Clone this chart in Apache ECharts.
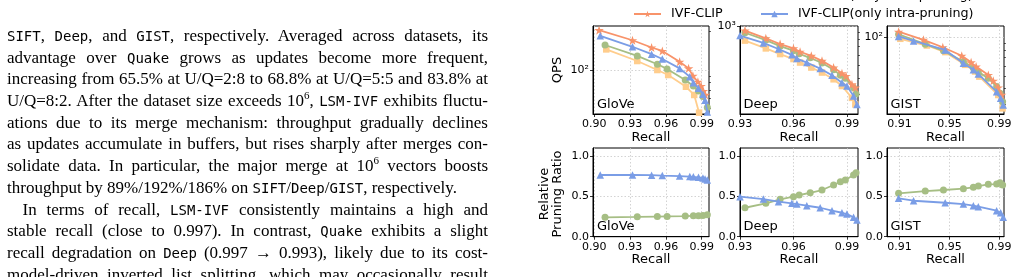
<!DOCTYPE html>
<html>
<head>
<meta charset="utf-8">
<script src="https://cdn.jsdelivr.net/npm/echarts@6/dist/echarts.min.js"></script>
<style>
body { margin: 0; width: 1017px; height: 277px; overflow: hidden; background: #fff; position: relative; }
#chart { position: absolute; left: 0; top: 0; width: 1017px; height: 277px; }
#text { position: absolute; left: 7px; top: 25px; width: 481px; font-family: "Liberation Serif", serif; font-size: 17px; line-height: 21.7px; color: #000; }
#text div { text-align: justify; text-align-last: justify; white-space: nowrap; height: 21.7px; }
#text div.last { text-align-last: left; }
#text div.ind { text-indent: 15.5px; }
.tt { font-family: "DejaVu Sans Mono", monospace; font-size: 14px; }
sup { font-size: 11px; line-height: 0; }
</style>
</head>
<body>
<div id="chart"></div>
<div id="text">
<div><span class="tt">SIFT</span>, <span class="tt">Deep</span>, and <span class="tt">GIST</span>, respectively. Averaged across datasets, its</div>
<div>advantage over <span class="tt">Quake</span> grows as updates become more frequent,</div>
<div>increasing from 65.5% at U/Q=2:8 to 68.8% at U/Q=5:5 and 83.8% at</div>
<div>U/Q=8:2. After the dataset size exceeds 10<sup>6</sup>, <span class="tt">LSM-IVF</span> exhibits fluctu-</div>
<div>ations due to its merge mechanism: throughput gradually declines</div>
<div>as updates accumulate in buffers, but rises sharply after merges con-</div>
<div>solidate data. In particular, the major merge at 10<sup>6</sup> vectors boosts</div>
<div class="last">throughput by 89%/192%/186% on <span class="tt">SIFT</span>/<span class="tt">Deep</span>/<span class="tt">GIST</span>, respectively.</div>
<div class="ind">In terms of recall, <span class="tt">LSM-IVF</span> consistently maintains a high and</div>
<div>stable recall (close to 0.997). In contrast, <span class="tt">Quake</span> exhibits a slight</div>
<div>recall degradation on <span class="tt">Deep</span> (0.997 → 0.993), likely due to its cost-</div>
<div>model-driven inverted list splitting, which may occasionally result</div>
</div>
<script>
// 数据: recall / QPS / 剪枝比例, 从图上读出来的
let seriesNames = ['IVF', 'IVF-CLIP(only inter-pruning)', 'IVF-CLIP', 'IVF-CLIP(only intra-pruning)'];
let datasetNames = ['GloVe', 'Deep', 'GIST'];

// GloVe
let gloveRecallIvf = [0.910, 0.936, 0.9528, 0.9619, 0.9768, 0.9837, 0.9878];
let gloveQpsIvf = [145, 117.6, 100, 91.4, 74, 63.8, 46.4];
let gloveRecallInter = [0.909, 0.936, 0.9528, 0.961, 0.9762, 0.983, 0.9873, 0.991, 0.9947];
let gloveQpsInter = [157, 129, 111, 102, 83.5, 75, 68.5, 62, 51];
let gloveRatioInter = [0.240, 0.246, 0.250, 0.252, 0.256, 0.259, 0.261, 0.264, 0.272];
let gloveRecallClip = [0.904, 0.932, 0.948, 0.957, 0.9715, 0.979, 0.9826, 0.9868, 0.9895, 0.9914, 0.993];
let gloveQpsClip = [205, 171, 150, 141, 116, 103, 90, 81, 75, 68.5, 64];
let gloveRecallIntra = [0.905, 0.932, 0.948, 0.957, 0.9715, 0.980, 0.983, 0.9873, 0.991, 0.9928, 0.9947];
let gloveQpsIntra = [185, 152, 133, 122, 103, 88.6, 79.6, 72, 64.6, 58, 47];
let gloveRatioIntra = [0.765, 0.765, 0.763, 0.758, 0.752, 0.746, 0.742, 0.736, 0.728, 0.716, 0.703];

// Deep
let deepRecallIvf = [0.9328, 0.9445, 0.9525, 0.960, 0.9637, 0.970, 0.976, 0.9825, 0.9872, 0.9928, 0.9947];
let deepQpsIvf = [778, 677, 612, 560, 526, 481, 440, 390, 346, 280, 249];
let deepRecallInter = [0.9328, 0.9445, 0.9525, 0.960, 0.9632, 0.9694, 0.976, 0.9825, 0.9863, 0.9891, 0.9937, 0.9951];
let deepQpsInter = [895, 785, 705, 650, 615, 572, 522, 462, 420, 398, 335, 300];
let deepRatioInter = [0.359, 0.414, 0.463, 0.496, 0.517, 0.545, 0.579, 0.641, 0.682, 0.703, 0.765, 0.793];
let deepRecallClip = [0.9328, 0.9445, 0.9525, 0.960, 0.9637, 0.970, 0.976, 0.9825, 0.9872, 0.9895, 0.9928, 0.9947];
let deepQpsClip = [931, 811, 732, 677, 638, 593, 542, 481, 435, 414, 357, 336];
let deepRecallIntra = [0.930, 0.9431, 0.9516, 0.9591, 0.9619, 0.9675, 0.975, 0.9816, 0.9872, 0.990, 0.9937, 0.9956];
let deepQpsIntra = [851, 747, 670, 604, 565, 526, 472, 420, 367, 346, 289, 249];
let deepRatioIntra = [0.496, 0.467, 0.434, 0.414, 0.405, 0.384, 0.359, 0.322, 0.297, 0.281, 0.240, 0.207];

// GIST
let gistRecallIvf = [0.9106, 0.9319, 0.9466, 0.9626, 0.9706, 0.974, 0.9892, 0.9927];
let gistQpsIvf = [97.7, 86.6, 76.9, 61.2, 54.3, 49.5, 35.6, 28];
let gistRecallInter = [0.9092, 0.9306, 0.9452, 0.9612, 0.9692, 0.9732, 0.9812, 0.9879, 0.9906, 0.9927];
let gistQpsInter = [106, 88.7, 78.7, 65, 57.7, 53.7, 48.2, 41.4, 36.8, 31.6];
let gistRatioInter = [0.538, 0.566, 0.579, 0.595, 0.612, 0.628, 0.649, 0.653, 0.669, 0.640];
let gistRecallClip = [0.9092, 0.9292, 0.9447, 0.9599, 0.9674, 0.9714, 0.9812, 0.9852, 0.9892, 0.9919];
let gistQpsClip = [111, 96, 84, 72, 64, 59.3, 51, 46, 40.7, 35.7];
let gistRecallIntra = [0.9092, 0.9212, 0.9466, 0.9612, 0.9692, 0.9732, 0.9879, 0.9911, 0.9932];
let gistQpsIntra = [102, 94, 80, 63, 56, 51.8, 37.8, 33.6, 29.8];
let gistRatioIntra = [0.476, 0.446, 0.421, 0.405, 0.384, 0.372, 0.322, 0.297, 0.240];

// 坐标轴刻度
let recallTicks = [[0.90, 0.93, 0.96, 0.99], [0.93, 0.96, 0.99], [0.91, 0.95, 0.99]];
let recallRange = [[0.8989, 0.9961], [0.93, 0.9962], [0.8999, 0.9938]];
let qpsTicks = [[100], [1000], [100]];
let qpsMinorTicks = [[50, 60, 70, 80, 90, 200], [300, 400, 500, 600, 700, 800, 900], [30, 40, 50, 60, 70, 80, 90]];
let qpsRange = [[45.3, 221], [210, 1010], [25.3, 123]];
let ratioTicks = [0, 0.5, 1.0];

let colors = ['#FFCD8C', '#A6BE84', '#F8936A', '#7A9DE6'];
let starPath = 'path://M50,0L61.23,34.55L97.55,34.55L68.17,55.9L79.39,90.45L50,69.1L20.61,90.45L31.83,55.9L2.45,34.55L38.77,34.55Z';
let symbols = ['rect', 'circle', starPath, 'triangle'];
let symbolSizes = [6.5, 7, 9.5, 7.5];

let topData = [
	[[gloveRecallIvf, gloveQpsIvf], [gloveRecallInter, gloveQpsInter], [gloveRecallClip, gloveQpsClip], [gloveRecallIntra, gloveQpsIntra]],
	[[deepRecallIvf, deepQpsIvf], [deepRecallInter, deepQpsInter], [deepRecallClip, deepQpsClip], [deepRecallIntra, deepQpsIntra]],
	[[gistRecallIvf, gistQpsIvf], [gistRecallInter, gistQpsInter], [gistRecallClip, gistQpsClip], [gistRecallIntra, gistQpsIntra]]
];
let bottomData = [
	[[gloveRecallInter, gloveRatioInter], [gloveRecallIntra, gloveRatioIntra]],
	[[deepRecallInter, deepRatioInter], [deepRecallIntra, deepRatioIntra]],
	[[gistRecallInter, gistRatioInter], [gistRecallIntra, gistRatioIntra]]
];

function pairs(xs, ys) {
	return xs.map(function(x, i) { return [x, ys[i]]; });
}

let font = 'DejaVu Sans';
let panelLeft = [593, 740, 887];
let panelWidth = [116, 118, 117];

let grids = [], xAxes = [], yAxes = [], series = [], graphics = [];

for (let i = 0; i < 3; i++) {
	grids.push({ left: panelLeft[i], top: 26, width: panelWidth[i], height: 88 });
}
for (let i = 0; i < 3; i++) {
	grids.push({ left: panelLeft[i], top: 148, width: panelWidth[i], height: 88.7 });
}
grids.forEach(function(g) {
	g.show = true;
	g.borderColor = '#000';
	g.borderWidth = 1;
	g.backgroundColor = 'transparent';
	g.outerBoundsMode = 'none';
	g.containLabel = false;
});

// x 轴
for (let k = 0; k < 6; k++) {
	let i = k % 3;
	xAxes.push({
		type: 'value',
		gridIndex: k,
		min: recallRange[i][0],
		max: recallRange[i][1],
		name: 'Recall',
		nameLocation: 'middle',
		nameGap: 16,
		nameTextStyle: { fontFamily: font, fontSize: 13, color: '#000' },
		axisLine: { show: true, lineStyle: { color: '#000', width: 1 } },
		axisTick: { show: true, length: 3, lineStyle: { color: '#000', width: 0.8 }, customValues: recallTicks[i] },
		axisLabel: {
			customValues: recallTicks[i],
			margin: 5,
			fontFamily: font,
			fontSize: 11,
			color: '#000',
			formatter: function(v) { return v.toFixed(2); }
		},
		splitLine: { show: true, lineStyle: { color: '#c8c8c8', width: 0.8, type: [1.5, 2] } }
	});
}

// y 轴 (QPS 对数)
for (let i = 0; i < 3; i++) {
	yAxes.push({
		type: 'log',
		logBase: 10,
		gridIndex: i,
		min: qpsRange[i][0],
		max: qpsRange[i][1],
		axisLine: { show: true, lineStyle: { color: '#000', width: 1 } },
		axisTick: { show: true, length: 3, lineStyle: { color: '#000', width: 0.8 }, customValues: qpsTicks[i] },
		axisLabel: {
			customValues: qpsTicks[i],
			margin: 4,
			fontFamily: font,
			fontSize: 11,
			color: '#000',
			formatter: function(v) { return v >= 999 ? '10³' : '10²'; }
		},
		splitLine: { show: true, lineStyle: { color: '#c8c8c8', width: 0.8, type: [1.5, 2] } }
	});
}
// y 轴 (剪枝比例)
for (let i = 0; i < 3; i++) {
	yAxes.push({
		type: 'value',
		gridIndex: 3 + i,
		min: 0,
		max: 1.1,
		axisLine: { show: true, lineStyle: { color: '#000', width: 1 } },
		axisTick: { show: true, length: 3, lineStyle: { color: '#000', width: 0.8 }, customValues: ratioTicks },
		axisLabel: {
			customValues: ratioTicks,
			margin: 4,
			fontFamily: font,
			fontSize: 11,
			color: '#000',
			formatter: function(v) { return v.toFixed(1); }
		},
		splitLine: { show: true, lineStyle: { color: '#c8c8c8', width: 0.8, type: [1.5, 2] } }
	});
}
// 对数轴的小刻度
for (let i = 0; i < 3; i++) {
	yAxes.push({
		type: 'log',
		logBase: 10,
		gridIndex: i,
		min: qpsRange[i][0],
		max: qpsRange[i][1],
		axisLine: { show: false },
		axisTick: { show: true, length: 2, lineStyle: { color: '#000', width: 0.6 }, customValues: qpsMinorTicks[i] },
		axisLabel: { show: false },
		splitLine: { show: false }
	});
}

// 上面三张图
for (let i = 0; i < 3; i++) {
	for (let s = 0; s < 4; s++) {
		series.push({
			name: seriesNames[s],
			type: 'line',
			xAxisIndex: i,
			yAxisIndex: i,
			data: pairs(topData[i][s][0], topData[i][s][1]),
			symbol: symbols[s],
			symbolSize: symbolSizes[s],
			symbolKeepAspect: true,
			showAllSymbol: true,
			clip: true,
			lineStyle: { color: colors[s], width: 1.8 },
			itemStyle: { color: colors[s] },
			animation: false,
			z: 2 + s
		});
	}
}
// 下面三张图
for (let i = 0; i < 3; i++) {
	for (let s = 0; s < 2; s++) {
		let idx = s == 0 ? 1 : 3;
		series.push({
			name: seriesNames[idx],
			type: 'line',
			xAxisIndex: 3 + i,
			yAxisIndex: 3 + i,
			data: pairs(bottomData[i][s][0], bottomData[i][s][1]),
			symbol: symbols[idx],
			symbolSize: symbolSizes[idx],
			symbolKeepAspect: true,
			showAllSymbol: true,
			clip: true,
			lineStyle: { color: colors[idx], width: 1.8 },
			itemStyle: { color: colors[idx] },
			animation: false,
			z: 2 + idx
		});
	}
}

// 面板里的数据集名字
let labelX = [597, 743.5, 890.5];
for (let i = 0; i < 3; i++) {
	graphics.push({ type: 'text', x: labelX[i], y: 105, style: { text: datasetNames[i], font: '13px "DejaVu Sans"', fill: '#000', textAlign: 'left', textVerticalAlign: 'middle' } });
	graphics.push({ type: 'text', x: labelX[i], y: 226.5, style: { text: datasetNames[i], font: '13px "DejaVu Sans"', fill: '#000', textAlign: 'left', textVerticalAlign: 'middle' } });
}
graphics.push({ type: 'text', x: 558, y: 70, rotation: Math.PI / 2, style: { text: 'QPS', font: '13px "DejaVu Sans"', fill: '#000', textAlign: 'center', textVerticalAlign: 'middle' } });
graphics.push({ type: 'text', x: 551.5, y: 194, rotation: Math.PI / 2, style: { text: 'Relative\nPruning Ratio', font: '13px "DejaVu Sans"', lineHeight: 13, fill: '#000', textAlign: 'center', textVerticalAlign: 'middle' } });

// 图例, 两行两列
let legendPos = [[633, -11], [760, -11], [633, 7.5], [760, 7.5]];
let legends = seriesNames.map(function(n, k) {
	return {
		data: [n],
		left: legendPos[k][0],
		top: legendPos[k][1],
		padding: 0,
		itemWidth: 27,
		itemHeight: 8,
		itemGap: 0,
		selectedMode: false,
		textStyle: { fontFamily: font, fontSize: 12.7, color: '#000', padding: [0, 0, 0, 5] }
	};
});

let myChart = echarts.init(document.getElementById('chart'), null, { renderer: 'canvas' });
myChart.setOption({
	animation: false,
	backgroundColor: 'transparent',
	legend: legends,
	grid: grids,
	xAxis: xAxes,
	yAxis: yAxes,
	series: series,
	graphic: graphics
});
</script>
</body>
</html>
